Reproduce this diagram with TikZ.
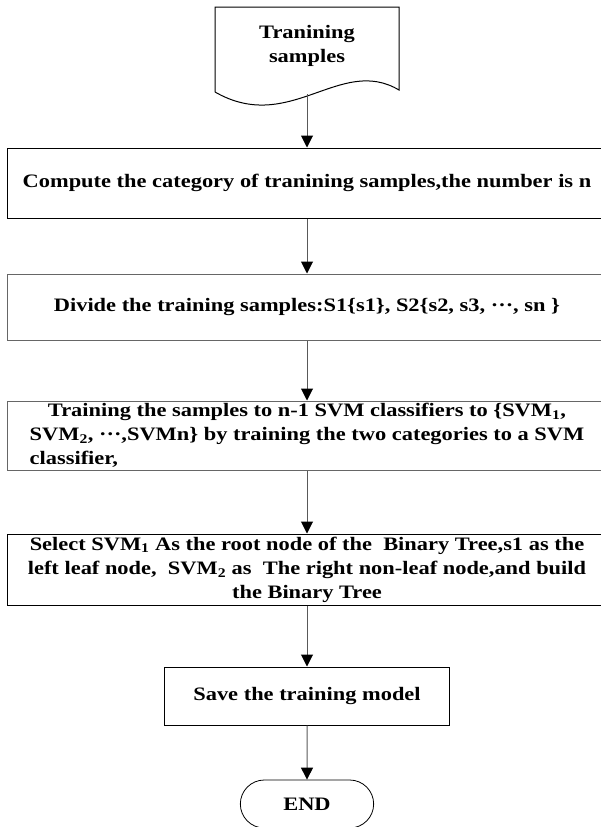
\documentclass[tikz,border=0pt]{standalone}
\usepackage{fontspec}
\usepackage{calc}
\setmainfont{Liberation Serif}[FakeStretch=1.18]
\usetikzlibrary{arrows.meta,shapes.misc}

\tikzset{
  stepbox/.style={draw=black, line width=1pt, inner sep=0pt, align=center},
  greybox/.style={stepbox, draw=black!60},
  flow/.style={draw=black!65, line width=1pt, -{Triangle[width=12pt,length=12pt,color=black]}},
  terminal/.style={draw=black, line width=0.8pt, rounded rectangle, minimum width=140pt, minimum height=48pt}
}

\begin{document}
\begin{tikzpicture}[x=1pt,y=-1pt,font=\fontsize{19}{24}\selectfont\bfseries]
\useasboundingbox (0,0) rectangle (600,827);

% input document
\draw[line width=1pt] (215,92) -- (215,7) -- (399,7) -- (399,90)
  .. controls (340,55) and (290,135) .. (215,92);
\node[align=center] (samples) at (307,46) {Tranining\\samples};
\coordinate (wave) at (307,94);

% steps
\node[stepbox, minimum width=600pt, minimum height=70pt] (count) at (307,183)
  {Compute the category of tranining samples,the number is n};
\node[greybox, minimum width=600pt, minimum height=66pt] (divide) at (307,307)
  {Divide the training samples:S1\{s1\}, S2\{s2, s3, ···, sn \}};
\node[greybox, minimum width=600pt, minimum height=69pt] (train) at (307,435.5)
  {Training the samples to n-1 SVM classifiers to \{SVM\textsubscript{1},\\
   SVM\textsubscript{2}, ···,SVMn\} by training the two categories to a SVM\\
   \makebox[\widthof{SVM\textsubscript{2}, ···,SVMn\} by training the two categories to a SVM}][l]{classifier,}};
\node[stepbox, minimum width=600pt, minimum height=71pt] (tree) at (307,569.5)
  {Select SVM\textsubscript{1} As the root node of the \ Binary Tree,s1 as the\\
   left leaf node, \ SVM\textsubscript{2} as \ The right non-leaf node,and build\\
   the Binary Tree};
\node[stepbox, minimum width=285pt, minimum height=58pt] (save) at (307,696)
  {Save the training model};
\node[terminal] (end) at (307,804) {END};

% arrows
\draw[flow] (wave) -- (count);
\draw[flow] (count) -- (divide);
\draw[flow] (divide) -- (train);
\draw[flow] (train) -- (tree);
\draw[flow] (tree) -- (save);
\draw[flow] (save) -- (end);
\end{tikzpicture}
\end{document}
